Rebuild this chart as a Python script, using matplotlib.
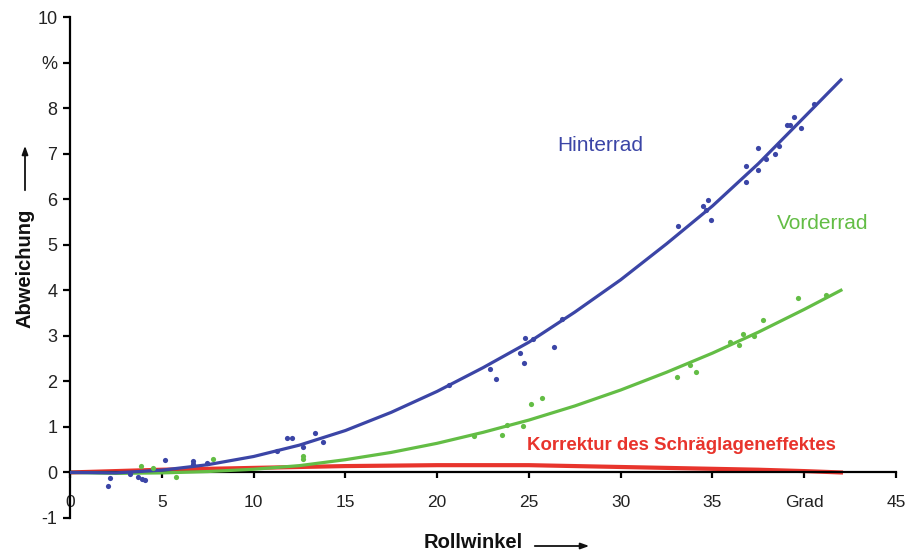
import matplotlib.pyplot as plt

plt.rcParams['font.family'] = ['Liberation Sans', 'DejaVu Sans']

# Fitted curves (Rollwinkel in Grad, Abweichung in %)
curve_x = [0, 2.5, 5, 7.5, 10, 12.5, 15, 17.5, 20, 22.5, 25, 27.5, 30, 32.5, 35, 37.5, 40, 42]
hinterrad_curve = [0, -0.01, 0.05, 0.17, 0.35, 0.6, 0.92, 1.32, 1.78, 2.3, 2.86, 3.52, 4.23, 5.02, 5.85, 6.78, 7.8, 8.62]
vorderrad_curve = [0, -0.02, -0.01, 0.02, 0.07, 0.15, 0.28, 0.44, 0.64, 0.88, 1.15, 1.46, 1.81, 2.2, 2.62, 3.08, 3.58, 4.0]
korrektur_curve = [0, 0.03, 0.06, 0.08, 0.1, 0.12, 0.14, 0.15, 0.16, 0.16, 0.16, 0.14, 0.12, 0.1, 0.08, 0.06, 0.03, 0.0]

# measured points
hinterrad_x = [2.07, 2.2, 3.27, 3.72, 3.9, 4.09, 5.18, 6.72, 6.72, 7.45, 11.26, 11.8, 12.08, 12.7,
               13.35, 13.8, 20.67, 22.9, 23.2, 24.5, 24.74, 24.8, 25.25, 26.38, 26.8, 33.15, 34.5,
               34.66, 34.75, 34.93, 36.84, 36.84, 37.5, 37.5, 37.93, 38.42, 38.6, 39.06, 39.2,
               39.47, 39.84, 40.55]
hinterrad_y = [-0.29, -0.13, -0.04, -0.1, -0.15, -0.17, 0.27, 0.26, 0.18, 0.2, 0.47, 0.75, 0.75, 0.55,
               0.87, 0.66, 1.91, 2.28, 2.05, 2.62, 2.4, 2.95, 2.93, 2.76, 3.37, 5.42, 5.86,
               5.77, 5.99, 5.55, 6.72, 6.38, 7.12, 6.63, 6.88, 6.99, 7.17, 7.63, 7.63,
               7.8, 7.57, 8.09]
vorderrad_x = [3.87, 4.54, 5.8, 7.8, 12.7, 12.7, 22.0, 23.56, 23.8, 24.67, 25.1, 25.7, 33.06, 33.8,
               34.1, 35.97, 36.47, 36.66, 37.28, 37.73, 39.65, 41.18]
vorderrad_y = [0.14, 0.1, -0.1, 0.3, 0.36, 0.29, 0.8, 0.83, 1.05, 1.03, 1.51, 1.64, 2.1, 2.35,
               2.21, 2.86, 2.79, 3.05, 2.99, 3.34, 3.82, 3.89]

x_ticks = [0, 5, 10, 15, 20, 25, 30, 35, 40, 45]
x_ticklabels = ['0', '5', '10', '15', '20', '25', '30', '35', 'Grad', '45']
y_ticks = [-1, 0, 1, 2, 3, 4, 5, 6, 7, 8, 9, 10]
y_ticklabels = ['-1', '0', '1', '2', '3', '4', '5', '6', '7', '8', '%', '10']

BLUE = '#3b45a6'
GREEN = '#63bd45'
RED = '#e8342c'

fig = plt.figure(figsize=(9.07, 5.54), dpi=100)
ax = fig.add_axes([70 / 907, 1 - 518 / 554, 826 / 907, 501 / 554])

ax.plot(curve_x, korrektur_curve, color=RED, lw=3.0, zorder=2, solid_joinstyle='round')
ax.plot(curve_x, vorderrad_curve, color=GREEN, lw=2.3, zorder=3, solid_joinstyle='round')
ax.plot(curve_x, hinterrad_curve, color=BLUE, lw=2.3, zorder=4, solid_joinstyle='round')
ax.scatter(vorderrad_x, vorderrad_y, s=14, color=GREEN, zorder=5, linewidths=0)
ax.scatter(hinterrad_x, hinterrad_y, s=14, color=BLUE, zorder=5, linewidths=0)

ax.text(28.9, 7.17, 'Hinterrad', color=BLUE, fontsize=15, ha='center', va='center')
ax.text(41.0, 5.46, 'Vorderrad', color=GREEN, fontsize=15, ha='center', va='center')
ax.text(33.3, 0.59, 'Korrektur des Schräglageneffektes', color=RED, fontsize=13.4,
        fontweight='bold', ha='center', va='center')

ax.set_xlim(0, 45)
ax.set_ylim(-1, 10)
ax.spines['top'].set_visible(False)
ax.spines['right'].set_visible(False)
ax.spines['bottom'].set_position(('data', 0))
ax.spines['left'].set_linewidth(1.6)
ax.spines['bottom'].set_linewidth(1.6)

ax.set_xticks(x_ticks)
ax.set_xticklabels(x_ticklabels, fontsize=12.5, color='#222222')
ax.set_yticks(y_ticks)
ax.set_yticklabels(y_ticklabels, fontsize=13, color='#222222')
ax.tick_params(axis='x', direction='out', length=4, width=1.6, pad=12)
ax.tick_params(axis='y', direction='out', length=5, width=1.6, pad=4)

# axis titles with long arrows
fig.text(473 / 907, 1 - 543 / 554, 'Rollwinkel', fontsize=14.5, fontweight='bold',
         ha='center', va='center', color='#111111')
fig.text(25 / 907, 1 - 268 / 554, 'Abweichung', fontsize=14.5, fontweight='bold',
         rotation=90, ha='center', va='center', color='#111111')
arrow = dict(arrowstyle='-|>,head_length=0.5,head_width=0.18', lw=1.3, color='#111111')
fig.add_artist(plt.Annotation('', xy=(592 / 907, 1 - 546 / 554), xytext=(532 / 907, 1 - 546 / 554),
                              xycoords='figure fraction', arrowprops=arrow))
fig.add_artist(plt.Annotation('', xy=(25 / 907, 1 - 143 / 554), xytext=(25 / 907, 1 - 193 / 554),
                              xycoords='figure fraction', arrowprops=arrow))

fig.savefig('out.png', dpi=100)
